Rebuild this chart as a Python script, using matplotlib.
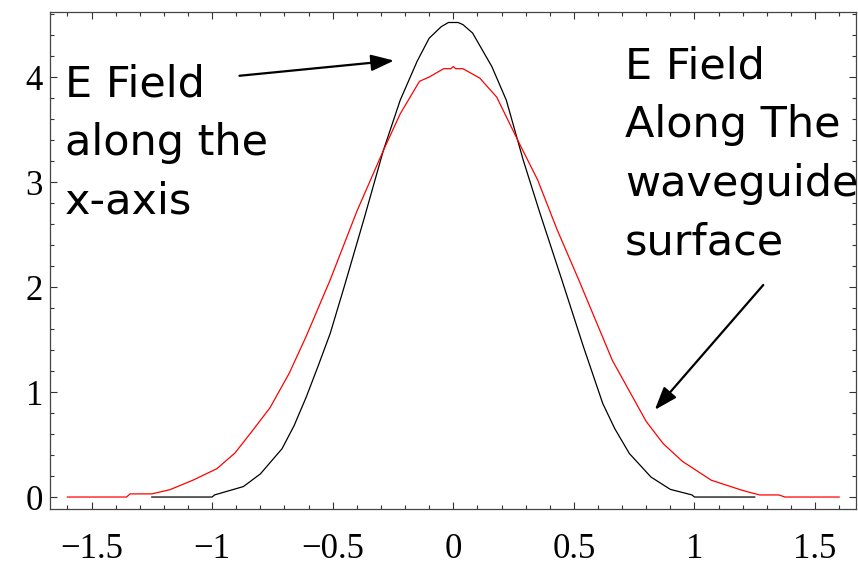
import matplotlib.pyplot as plt
from matplotlib.ticker import MultipleLocator

# field along the x-axis (black)
x_axis_x = [-1.25, -1.0, -0.99, -0.87, -0.80, -0.77, -0.71, -0.66, -0.61, -0.56, -0.51,
            -0.45, -0.37, -0.29, -0.22, -0.15, -0.10, -0.05, -0.02, 0.02, 0.04, 0.08,
            0.16, 0.22, 0.29, 0.36, 0.45, 0.54, 0.62, 0.67, 0.73, 0.82, 0.90, 0.99,
            1.0, 1.25]
x_axis_e = [0.0, 0.0, 0.02, 0.10, 0.22, 0.30, 0.46, 0.68, 0.95, 1.25, 1.56,
            2.02, 2.65, 3.30, 3.78, 4.15, 4.37, 4.48, 4.52, 4.52, 4.50, 4.42,
            4.10, 3.78, 3.21, 2.70, 2.07, 1.43, 0.89, 0.65, 0.415, 0.19, 0.073, 0.02,
            0.0, 0.0]

# field along the waveguide surface (red)
surf_x = [-1.60, -1.355, -1.34, -1.25, -1.175, -1.08, -0.98, -0.905, -0.84, -0.76,
          -0.68, -0.61, -0.51, -0.40, -0.29, -0.22, -0.14, -0.10, -0.04, -0.01, 0.0,
          0.01, 0.04, 0.11, 0.18, 0.28, 0.35, 0.43, 0.52, 0.66, 0.80, 0.87, 0.95,
          1.07, 1.19, 1.22, 1.27, 1.35, 1.375, 1.60]
surf_e = [0.0, 0.0, 0.03, 0.03, 0.07, 0.16, 0.27, 0.42, 0.61, 0.85,
          1.18, 1.53, 2.07, 2.72, 3.30, 3.65, 3.96, 4.00, 4.08, 4.08, 4.10,
          4.08, 4.08, 3.99, 3.81, 3.34, 3.02, 2.55, 2.07, 1.30, 0.72, 0.51, 0.34,
          0.16, 0.07, 0.05, 0.02, 0.02, 0.0, 0.0]

fig = plt.figure(figsize=(8.58, 5.66), dpi=100)
ax = fig.add_axes([0.0583, 0.1007, 0.9394, 0.8781])

ax.plot(x_axis_x, x_axis_e, color="black", lw=0.9)
ax.plot(surf_x, surf_e, color="red", lw=0.9)

ax.set_xlim(-1.672, 1.670)
ax.set_ylim(-0.114, 4.62)

ax.xaxis.set_minor_locator(MultipleLocator(0.1))
ax.yaxis.set_minor_locator(MultipleLocator(0.2))
ax.set_xticks([-1.5, -1, -0.5, 0, 0.5, 1, 1.5])
ax.set_xticklabels(["\u22121.5", "\u22121", "\u22120.5", "0", "0.5", "1", "1.5"])
ax.set_yticks([0, 1, 2, 3, 4])
ax.set_yticklabels(["0", "1", "2", "3", "4"])

ax.tick_params(which="both", direction="in", top=True, right=True, color="#333333", width=0.8)
ax.tick_params(which="major", length=5)
ax.tick_params(which="minor", length=3)
ax.tick_params(axis="x", pad=17)
ax.tick_params(axis="y", pad=5)
for lab in ax.get_xticklabels() + ax.get_yticklabels():
    lab.set_fontfamily("Liberation Serif")
    lab.set_fontsize(25)
for sp in ax.spines.values():
    sp.set_color("#444444")
    sp.set_linewidth(0.9)

ax.text(-1.611, 4.13, "E Field\nalong the\nx-axis", fontsize=31, va="top", ha="left",
        linespacing=1.5, family="DejaVu Sans")
ax.text(0.712, 4.30, "E Field\nAlong The\nwaveguide\nsurface", fontsize=31, va="top",
        ha="left", linespacing=1.5, family="DejaVu Sans")

arrow = dict(arrowstyle="-|>,head_length=1.4,head_width=0.5", color="black", lw=1.6)
ax.annotate("", xy=(-0.234, 4.16), xytext=(-0.898, 4.01), arrowprops=arrow)
ax.annotate("", xy=(0.828, 0.81), xytext=(1.293, 2.04), arrowprops=arrow)

fig.savefig("out.png", dpi=100)
